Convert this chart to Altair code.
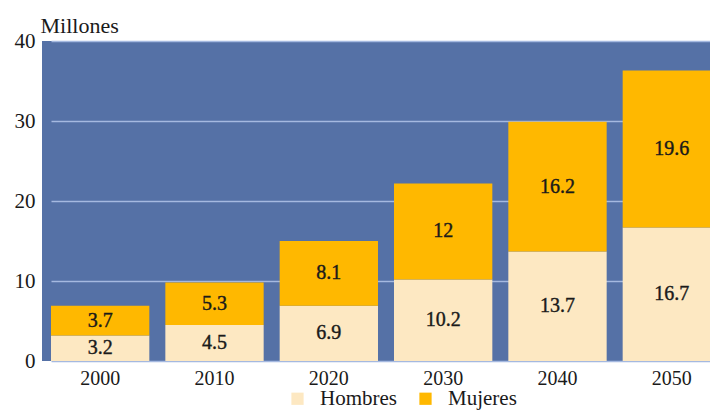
import altair as alt
import pandas as pd

years = ["2000", "2010", "2020", "2030", "2040", "2050"]
hombres = [3.2, 4.5, 6.9, 10.2, 13.7, 16.7]
mujeres = [3.7, 5.3, 8.1, 12, 16.2, 19.6]
mujeres_labels = ["3.7", "5.3", "8.1", "12", "16.2", "19.6"]
hombres_labels = ["3.2", "4.5", "6.9", "10.2", "13.7", "16.7"]
series = ["Hombres", "Mujeres"]
colors = ["#FDE8C2", "#FFB800"]

rows = []
for i, y in enumerate(years):
    rows.append({"year": y, "sexo": "Hombres", "ord": 0, "value": hombres[i], "label": hombres_labels[i]})
    rows.append({"year": y, "sexo": "Mujeres", "ord": 1, "value": mujeres[i], "label": mujeres_labels[i]})
df = pd.DataFrame(rows)

FONT = "'Liberation Serif', 'Times New Roman', 'DejaVu Serif', serif"

base = alt.Chart(df).transform_stack(
    stack="value", groupby=["year"], as_=["v0", "v1"], sort=[{"field": "ord", "order": "ascending"}]
).transform_calculate(mid="(datum.v0 + datum.v1) / 2")

xscale = alt.Scale(range=[9, 679], paddingInner=0.14, paddingOuter=0)

xenc = alt.X(
    "year:N",
    sort=years,
    title=None,
    scale=xscale,
    axis=alt.Axis(labelAngle=0, labelFontSize=20, labelFont=FONT, labelColor="#1a1a1a",
                  ticks=False, domain=False, labelPadding=7),
)

yscale = alt.Scale(domain=[0, 40])

bars = base.mark_bar(clip=True).encode(
    x=xenc,
    y=alt.Y(
        "v0:Q",
        scale=yscale,
        axis=alt.Axis(
            values=[0, 10, 20, 30, 40],
            title="Millones",
            titleAngle=0,
            titleAlign="left",
            titleBaseline="alphabetic",
            titleX=-2,
            titleY=-9,
            titleFont=FONT,
            titleFontSize=22,
            titleFontWeight="normal",
            titleColor="#1a1a1a",
            labelFont=FONT,
            labelFontSize=21,
            labelColor="#1a1a1a",
            labelPadding=7,
            ticks=False,
            domain=False,
            grid=True,
            gridColor="#A5B9E0",
            gridWidth=1.5,
        ),
    ),
    y2="v1:Q",
    color=alt.Color(
        "sexo:N",
        scale=alt.Scale(domain=series, range=colors),
        legend=alt.Legend(
            orient="none",
            legendX=245,
            legendY=347,
            direction="horizontal",
            title=None,
            symbolType="square",
            symbolSize=150,
            symbolStrokeWidth=0,
            labelFont=FONT,
            labelFontSize=21,
            labelColor="#1a1a1a",
            labelOffset=12,
            columnPadding=18,
        ),
    ),
    order=alt.Order("ord:Q"),
)

texts = base.mark_text(font=FONT, fontSize=20, color="#1a1a1a", stroke="#1a1a1a", strokeWidth=0.4).encode(
    x=alt.X("year:N", sort=years, scale=xscale),
    y=alt.Y("mid:Q", scale=yscale),
    text="label:N",
)

chart = alt.layer(bars, texts).properties(
    width=668,
    height=320,
    autosize=alt.AutoSizeParams(type="none"),
    padding={"left": 34, "top": 33, "right": 0, "bottom": 52},
    background="white",
).configure_view(fill="#5571A6", stroke=None)

chart.save("out.html", embed_options={"renderer": "svg", "actions": False})
